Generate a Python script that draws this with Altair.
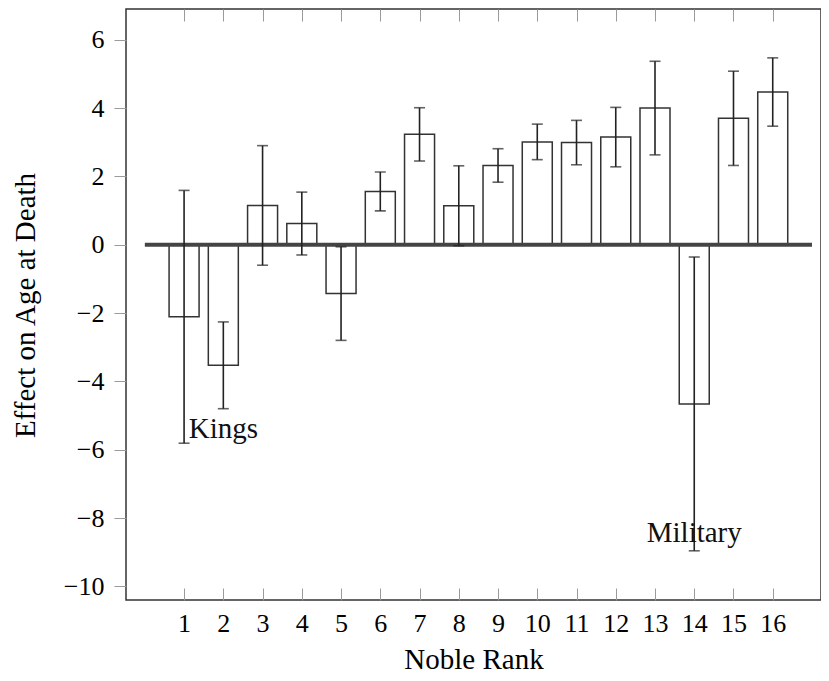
import altair as alt
import pandas as pd

# ---- data ----
ranks = list(range(1, 17))
effects = [-2.11, -3.53, 1.15, 0.62, -1.43, 1.56, 3.23, 1.14, 2.32, 3.01, 2.99, 3.15, 4.00, -4.66, 3.70, 4.47]
errors = [3.70, 1.27, 1.75, 0.92, 1.37, 0.57, 0.78, 1.17, 0.49, 0.52, 0.65, 0.87, 1.37, 4.30, 1.38, 1.00]
y_ticks = [-10, -8, -6, -4, -2, 0, 2, 4, 6]
ann_text = ["Kings", "Military"]
ann_x = [2.0, 14.0]
ann_y = [-5.65, -8.70]
zero_span = [0, 17]

FONT = "Liberation Serif"

df = pd.DataFrame({"rank": ranks, "effect": effects, "err": errors})
df["lo"] = df["effect"] - df["err"]
df["hi"] = df["effect"] + df["err"]
ann = pd.DataFrame({"label": ann_text, "x": ann_x, "y": ann_y})

x_scale = alt.Scale(domain=[-0.48, 17.23], nice=False, zero=False, padding=0)
y_scale = alt.Scale(domain=[-10.4, 6.9], nice=False, zero=False, padding=0)

bottom_axis = alt.Axis(
    values=ranks, orient="bottom", title="Noble Rank", domain=False, grid=False,
    tickSize=12, tickColor="#9a9a9a", tickWidth=1, offset=-12, labelPadding=10,
    labelFont=FONT, labelFontSize=26, labelColor="black", labelFlush=False,
    labelOverlap=False, titleFont=FONT, titleFontSize=29, titleFontWeight="normal",
    titleColor="black", titleBaseline="alphabetic", titleY=80,
)
top_axis = alt.Axis(
    values=ranks, orient="top", title=None, labels=False, domain=False, grid=False,
    tickSize=12, tickColor="#9a9a9a", tickWidth=1, offset=-12,
)
y_axis = alt.Axis(
    values=y_ticks, title="Effect on Age at Death", domain=False, grid=False,
    tickSize=12, tickColor="#9a9a9a", tickWidth=1, labelPadding=10,
    labelFont=FONT, labelFontSize=26, labelColor="black", labelFlush=False,
    titleFont=FONT, titleFontSize=29, titleFontWeight="normal", titleColor="black",
    titleAngle=-90, titleAlign="center", titleBaseline="alphabetic",
    titleX=-92, titleY=296,
)

base = alt.Chart(df)

bars = base.mark_bar(size=30, fill="white", stroke="#333333", strokeWidth=1.5).encode(
    x=alt.X("rank:Q", scale=x_scale, axis=bottom_axis),
    y=alt.Y("effect:Q", scale=y_scale, axis=y_axis),
    y2=alt.Y2Datum(0),
)

zero_line = alt.Chart(pd.DataFrame({"x": [zero_span[0]], "x2": [zero_span[1]]})).mark_rule(
    color="#444444", strokeWidth=4
).encode(
    x=alt.X("x:Q", scale=x_scale, axis=None),
    x2="x2:Q",
    y=alt.YDatum(0, scale=y_scale, axis=y_axis),
)

err_rule = base.mark_rule(color="#222222", strokeWidth=1.6).encode(
    x=alt.X("rank:Q", scale=x_scale, axis=top_axis),
    y=alt.Y("lo:Q", scale=y_scale, axis=y_axis),
    y2="hi:Q",
)

cap_hi = base.mark_tick(orient="horizontal", size=11, thickness=1.6, color="#222222").encode(
    x=alt.X("rank:Q", scale=x_scale, axis=None),
    y=alt.Y("hi:Q", scale=y_scale, axis=y_axis),
)
cap_lo = base.mark_tick(orient="horizontal", size=11, thickness=1.6, color="#222222").encode(
    x=alt.X("rank:Q", scale=x_scale, axis=None),
    y=alt.Y("lo:Q", scale=y_scale, axis=y_axis),
)

labels = alt.Chart(ann).mark_text(
    font=FONT, fontSize=29, color="#111111", align="center", baseline="alphabetic"
).encode(
    x=alt.X("x:Q", scale=x_scale, axis=None),
    y=alt.Y("y:Q", scale=y_scale, axis=y_axis),
    text="label:N",
)

chart = (
    alt.layer(bars, zero_line, err_rule, cap_hi, cap_lo, labels)
    .resolve_axis(x="independent")
    .properties(
        width=695,
        height=591,
        autosize=alt.AutoSizeParams(type="none"),
        padding={"left": 118, "top": 1, "right": 0, "bottom": 73},
        background="white",
    )
    .configure_view(stroke="#333333", strokeWidth=1.5)
)

chart.save("out.html", embed_options={"renderer": "svg", "actions": False})
